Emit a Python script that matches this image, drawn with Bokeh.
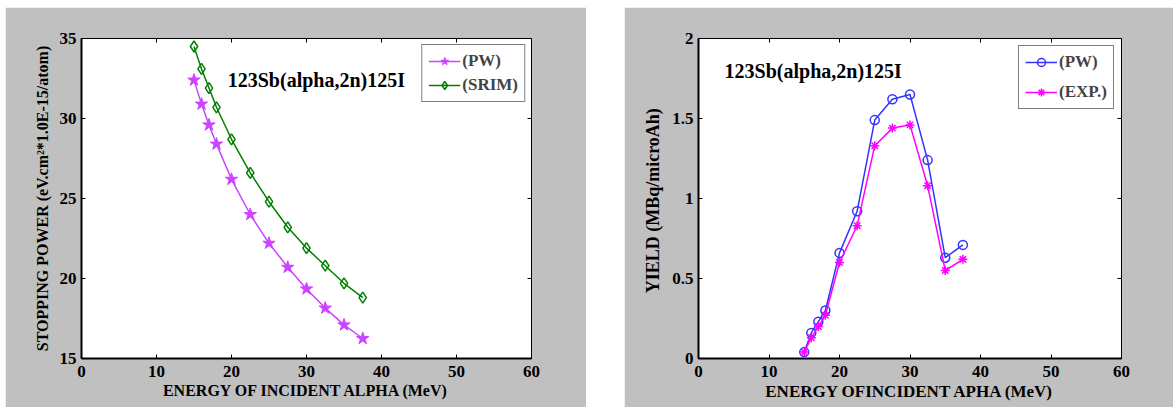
from bokeh.plotting import figure
from bokeh.layouts import row, column, Spacer
from bokeh.models import LinearAxis, Range1d, FixedTicker, Label, Legend, LegendItem
from bokeh.embed import file_html
from bokeh.resources import INLINE

# ---- data ----
energy = [15, 16, 17, 18, 20, 22.5, 25, 27.5, 30, 32.5, 35, 37.5]
sp_pw = [32.4, 30.9, 29.6, 28.4, 26.2, 24.0, 22.2, 20.7, 19.35, 18.15, 17.1, 16.25]
sp_srim = [34.5, 33.1, 31.9, 30.7, 28.7, 26.6, 24.8, 23.2, 21.9, 20.8, 19.7, 18.8]
yield_pw = [0.04, 0.16, 0.23, 0.30, 0.66, 0.92, 1.49, 1.62, 1.65, 1.24, 0.63, 0.71]
yield_exp = [0.04, 0.13, 0.20, 0.27, 0.60, 0.83, 1.33, 1.44, 1.46, 1.08, 0.55, 0.62]
x_ticks = [0, 10, 20, 30, 40, 50, 60]
sp_ticks = [15, 20, 25, 30, 35]
yield_ticks = [0, 0.5, 1, 1.5, 2]
yield_tick_labels = {0: "0", 0.5: "0.5", 1: "1", 1.5: "1.5", 2: "2"}
reaction = "123Sb(alpha,2n)125I"

FONT = "Liberation Serif"
GRAY = "#c0c0c0"


def style(p, yticks, xlabel, ylabel, xsize, ysize, ylabels=None):
    p.outline_line_color = "black"
    p.outline_line_width = 1
    p.xgrid.visible = False
    p.ygrid.visible = False
    p.xaxis.ticker = FixedTicker(ticks=x_ticks)
    p.yaxis.ticker = FixedTicker(ticks=yticks)
    if ylabels:
        p.yaxis.major_label_overrides = ylabels
    for ax in (p.xaxis[0], p.yaxis[0]):
        ax.major_tick_in = 4
        ax.major_tick_out = 0
        ax.minor_tick_line_color = None
        ax.axis_line_width = 2
        ax.major_label_text_font = FONT
        ax.major_label_text_font_style = "bold"
        ax.major_label_text_font_size = "17px"
        ax.major_label_text_color = "black"
        ax.axis_label_text_font = FONT
        ax.axis_label_text_font_style = "bold"
        ax.axis_label_text_color = "black"
    p.xaxis.axis_label = xlabel
    p.yaxis.axis_label = ylabel
    p.xaxis.axis_label_text_font_size = xsize
    p.yaxis.axis_label_text_font_size = ysize
    p.xaxis.major_label_standoff = 7
    p.yaxis.major_label_standoff = 5
    p.xaxis.axis_label_standoff = 2
    p.yaxis.axis_label_standoff = 6
    top = LinearAxis(ticker=FixedTicker(ticks=x_ticks), major_label_text_color=None,
                     major_tick_in=4, major_tick_out=0, minor_tick_line_color=None,
                     axis_line_color=None, major_label_standoff=0)
    right = LinearAxis(ticker=FixedTicker(ticks=yticks), major_label_text_color=None,
                       major_tick_in=4, major_tick_out=0, minor_tick_line_color=None,
                       axis_line_color=None, major_label_standoff=0)
    p.add_layout(top, "above")
    p.add_layout(right, "right")


def legend(p, items, margin, spacing):
    lg = Legend(items=items, location="top_right", margin=margin,
                border_line_color="black", border_line_width=1.5,
                background_fill_color="white", background_fill_alpha=1,
                label_text_font=FONT, label_text_font_style="bold",
                label_text_font_size="17px", glyph_width=32, glyph_height=20,
                label_standoff=2, padding=6, spacing=spacing, label_height=20)
    p.add_layout(lg)


# ---- left panel ----
p1 = figure(width=581, height=400, output_backend="svg", toolbar_location=None,
            x_range=Range1d(0, 60), y_range=Range1d(15, 35),
            background_fill_color="white", border_fill_color=GRAY,
            min_border_left=76, min_border_right=55, min_border_top=31, min_border_bottom=47)
style(p1, sp_ticks, "ENERGY OF INCIDENT ALPHA (MeV)", "STOPPING POWER (eV.cm\u00b2*1.0E-15/atom)",
      "16px", "16px")
c_pw = "#cc44ff"
c_srim = "#007f00"
l1 = p1.line(energy, sp_pw, line_color=c_pw, line_width=1.5)
m1 = p1.scatter(energy, sp_pw, marker="star", size=13, fill_color=c_pw, line_color=c_pw)
l2 = p1.line(energy, sp_srim, line_color=c_srim, line_width=1.5)
m2 = p1.scatter(energy, sp_srim, marker="diamond", size=11, fill_color=None,
                line_color=c_srim, line_width=1.5)
p1.add_layout(Label(x=19.5, y=32.4, text=reaction, text_font=FONT, text_font_style="bold",
                    text_font_size="20px", text_baseline="middle", text_color="black"))
legend(p1, [LegendItem(label="(PW)", renderers=[l1, m1]),
            LegendItem(label="(SRIM)", renderers=[l2, m2])], 6, 4)

# ---- right panel ----
p2 = figure(width=549, height=400, output_backend="svg", toolbar_location=None,
            x_range=Range1d(0, 60), y_range=Range1d(0, 2),
            background_fill_color="white", border_fill_color=GRAY,
            min_border_left=74, min_border_right=52, min_border_top=31, min_border_bottom=49)
style(p2, yield_ticks, "ENERGY OFINCIDENT APHA (MeV)", "YIELD  (MBq/microAh)",
      "17px", "18px", yield_tick_labels)
c_b = "#3333ff"
c_m = "#ff00ff"
l3 = p2.line(energy, yield_pw, line_color=c_b, line_width=1.5)
m3 = p2.scatter(energy, yield_pw, marker="circle", size=9, fill_color=None,
                line_color=c_b, line_width=1.5)
l4 = p2.line(energy, yield_exp, line_color=c_m, line_width=1.5)
m4 = p2.scatter(energy, yield_exp, marker="asterisk", size=9, line_color=c_m, line_width=1.5)
p2.add_layout(Label(x=3.7, y=1.8, text=reaction, text_font=FONT, text_font_style="bold",
                    text_font_size="20px", text_baseline="middle", text_color="black"))
legend(p2, [LegendItem(label="(PW)", renderers=[l3, m3]),
            LegendItem(label="(EXP.)", renderers=[l4, m4])], 7, 10)

layout = column(Spacer(height=7),
                row(Spacer(width=5), p1, Spacer(width=38), p2, spacing=0),
                spacing=0)

open("out.html", "w").write(file_html(layout, INLINE))
